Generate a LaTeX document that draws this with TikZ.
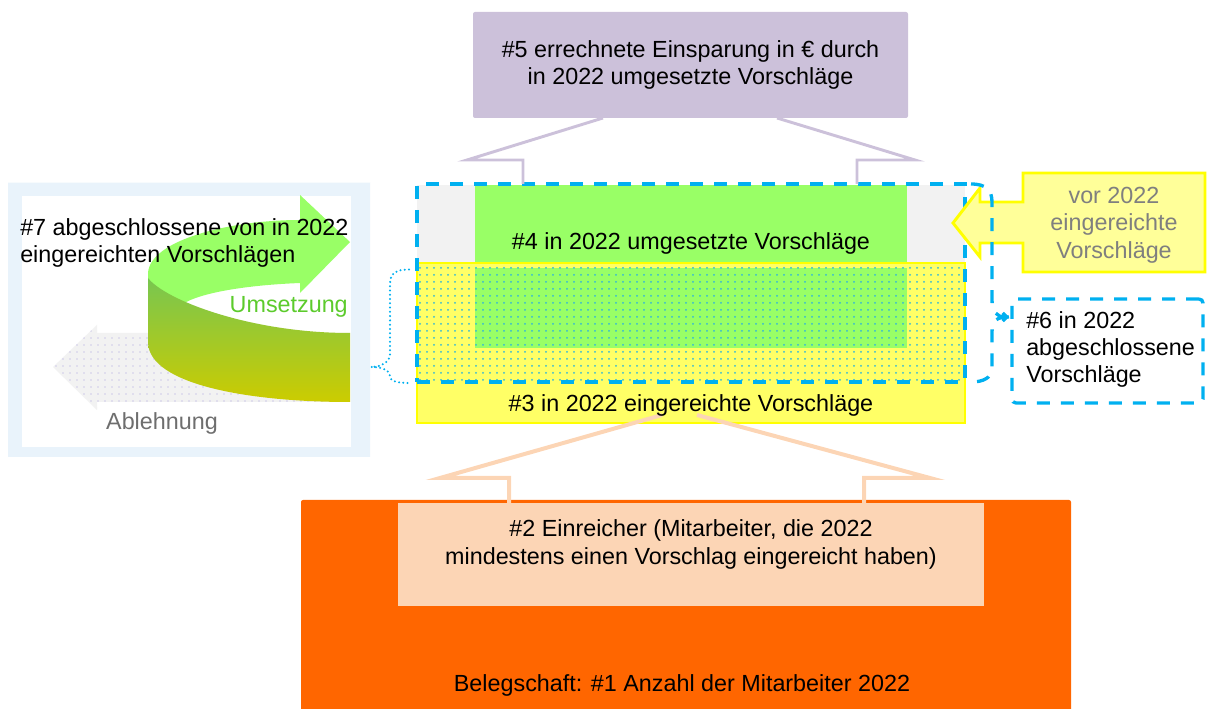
\documentclass[tikz,border=0pt]{standalone}
\usepackage{fontspec}
\setmainfont{Liberation Sans}
\usetikzlibrary{calc,patterns.meta,arrows.meta}
\definecolor{purpleC}{HTML}{CCC1DA}
\definecolor{greenC}{HTML}{99FF66}
\definecolor{yellowC}{HTML}{FFFF66}
\definecolor{yellowB}{HTML}{FFFF00}
\definecolor{yellowL}{HTML}{FFFF99}
\definecolor{cyanC}{HTML}{00B0F0}
\definecolor{dotC}{HTML}{30B8D8}
\definecolor{greyC}{HTML}{F2F2F2}
\definecolor{peachC}{HTML}{FCD5B5}
\definecolor{orangeC}{HTML}{FF6600}
\definecolor{txtGrey}{HTML}{7F7F7F}
\definecolor{ablGrey}{HTML}{6E6E6E}
\definecolor{umsC}{HTML}{5CCB2C}
\definecolor{frameC}{HTML}{EEF6FC}
\definecolor{frameD}{HTML}{DCECF8}
\definecolor{sideTop}{HTML}{78C650}
\definecolor{sideBot}{HTML}{CCCC00}
\definecolor{lavC}{HTML}{CFCBE8}
\tikzset{
  sz/.style 2 args={minimum width={#1*0.75pt},minimum height={#2*0.75pt}},
  box/.style={inner sep=0pt, outer sep=0pt, draw=none},
  txt/.style={font=\fontsize{17.5}{20.6}\selectfont, inner sep=0pt, align=center},
  pline/.style={draw=purpleC, line width=2.2pt, line join=miter},
  oline/.style={draw=peachC, line width=3pt, line join=miter},
  cdash/.style={draw=cyanC, line width=2.5pt, dash pattern=on 9.75pt off 8.25pt},
  cdot/.style={draw=cyanC, line width=1.7pt, dash pattern=on 0pt off 3.2pt, line cap=round},
}
\begin{document}
\begin{tikzpicture}[x=0.75pt,y=-0.75pt]
\useasboundingbox (0,0) rectangle (1208,709);

% ---- left panel ----
\node[box, fill=frameC, postaction={pattern={Dots[radius=0.4pt,distance=1.5pt]}, pattern color=frameD},
  sz={362}{274}, anchor=north west] (frame) at (8,183) {};
\node[box, fill=white, sz={329}{251}, anchor=north west] (inner) at (22,196) {};
% rejection arrow
\path[fill=greyC, postaction={pattern={Dots[radius=0.6pt,distance=5.25pt]}, pattern color=lavC}]
  (53,367) -- (97,325) -- (97,333) -- (350,333) -- (350,402) -- (97,402) -- (97,410) -- cycle;
% green ribbon: top face
\fill[greenC] (148,273) .. controls (150,240) and (230,220) .. (300,220) -- (300,195) -- (350,242)
  -- (300,293) -- (300,283) .. controls (250,285) and (200,292) .. (181,305) -- (148,305) -- cycle;
% green ribbon: side face
\shade[top color=sideTop, bottom color=sideBot]
  (148,278) .. controls (165,300) and (250,333) .. (350,333) -- (350,402)
  .. controls (250,402) and (150,385) .. (148,343) -- cycle;
\node[txt, align=left, anchor=west] (t7) at (20,243) {\#7 abgeschlossene von in 2022\\eingereichten Vorschlägen};
\node[txt, text=umsC, anchor=east] (ums) at (348,307) {Umsetzung};
\node[txt, text=ablGrey] (abl) at (162,423) {Ablehnung};

% ---- bottom ----
\node[box, fill=orangeC, rounded corners=1.5pt, sz={770}{212}, anchor=north west] (n1) at (301,500) {};
\node[txt] (t1) at (682,685) {Belegschaft: \#1 Anzahl der Mitarbeiter 2022};
\node[box, fill=peachC, sz={586}{103}, anchor=north west] (n2) at (398,503) {};
\node[txt] (t2) at (691,544.5) {\#2 Einreicher (Mitarbeiter, die 2022\\mindestens einen Vorschlag eingereicht haben)};

% ---- top ----
\node[box, fill=purpleC, rounded corners=1.5pt, sz={435}{106}, txt] (p5) at (690.5,65)
  {\#5 errechnete Einsparung in € durch\\in 2022 umgesetzte Vorschläge};

% ---- middle block ----
\node[box, fill=greyC, sz={548}{78}, anchor=north west] (gtop) at (417,185) {};
\node[box, fill=greenC, sz={432}{78}, anchor=north west] (g4) at (475,185) {};
\node[box, fill=yellowC, draw=yellowB, line width=2.2pt, sz={548}{160}, anchor=north west] (y3) at (417,263) {};
\node[box, fill=greenC, sz={432}{80}, anchor=north west] (g4b) at (475,268) {};
\node[box, pattern={Dots[radius=0.75pt,distance=5.25pt]}, pattern color=dotC, sz={544}{115}, anchor=north west] (dots) at (419,266) {};
\node[box, cdash, sz={548}{198}, anchor=north west] (dash) at (417,184) {};

% purple callout lines
\coordinate (pL) at ($(p5.south west)+(50,42)$);
\coordinate (pR) at ($(p5.south east)+(-51,42)$);
\draw[pline] ($(p5.south west)+(130,0)$) -- ($(p5.south west)+(-6,42)$) -- (pL) -- (pL |- dash.north);
\draw[pline] ($(p5.south east)+(-131,0)$) -- ($(p5.south east)+(7,42)$) -- (pR) -- (pR |- dash.north);

% orange callout lines
\coordinate (oL) at ($(n2.north west)+(111,-25)$);
\coordinate (oR) at ($(n2.north east)+(-120,-25)$);
\draw[oline] ($(y3.south)+(-29,-8)$) -- ($(n2.north west)+(42,-25)$) -- (oL) -- (oL |- n2.north);
\draw[oline] ($(y3.south)+(6,-8)$) -- ($(n2.north east)+(-54,-25)$) -- (oR) -- (oR |- n2.north);

\node[txt] (t4) at (691,243) {\#4 in 2022 umgesetzte Vorschläge};
\node[txt] (t3) at (691,405) {\#3 in 2022 eingereichte Vorschläge};

% ---- right side ----
\path[fill=yellowL, draw=yellowB, line width=2.2pt, line join=miter]
  (1023,173) -- (1205,173) -- (1205,272) -- (1023,272) -- (1023,243) -- (980,243) -- (980,257)
  -- (953,223) -- (980,188) -- (980,202) -- (1023,202) -- cycle;
\node[txt, text=txtGrey] (tv) at (1114,225) {vor 2022\\eingereichte\\Vorschläge};

\node[box, cdash, rounded corners=3pt, sz={191}{104}, anchor=north west] (n6) at (1012,299) {};
\node[txt, align=left, anchor=west] (t6) at (1026,349.5) {\#6 in 2022\\abgeschlossene\\Vorschläge};

% right brace
\coordinate (bt) at ($(n6.north west)+(-3,18)$);
\draw[cdash, -{Straight Barb[length=3pt,width=6pt]}] ($(dash.north east)+(6,0)$) .. controls +(15,0) and +(0,-12) .. (992,202)
  -- (992,300) .. controls +(0,12) and +(-12,0) .. (bt);
\draw[cdash] (bt) .. controls +(-12,0) and +(0,-12) .. (992,332) -- (992,368)
  .. controls +(0,10) and +(12,0) .. ($(dash.south east)+(6,0)$);

% left dotted brace
\coordinate (lt) at ($(frame.north east)+(1,184)$);
\draw[cdot] ($(dash.west)+(-8,-13.5)$) .. controls +(-14,0) and +(0,-10) .. (390,284) -- (390,354)
  .. controls +(0,8) and +(10,0) .. (lt) .. controls +(10,0) and +(0,-6) .. (390,376)
  .. controls +(0,5) and +(-12,0) .. ($(dash.south west)+(-8,1)$);
\end{tikzpicture}
\end{document}
